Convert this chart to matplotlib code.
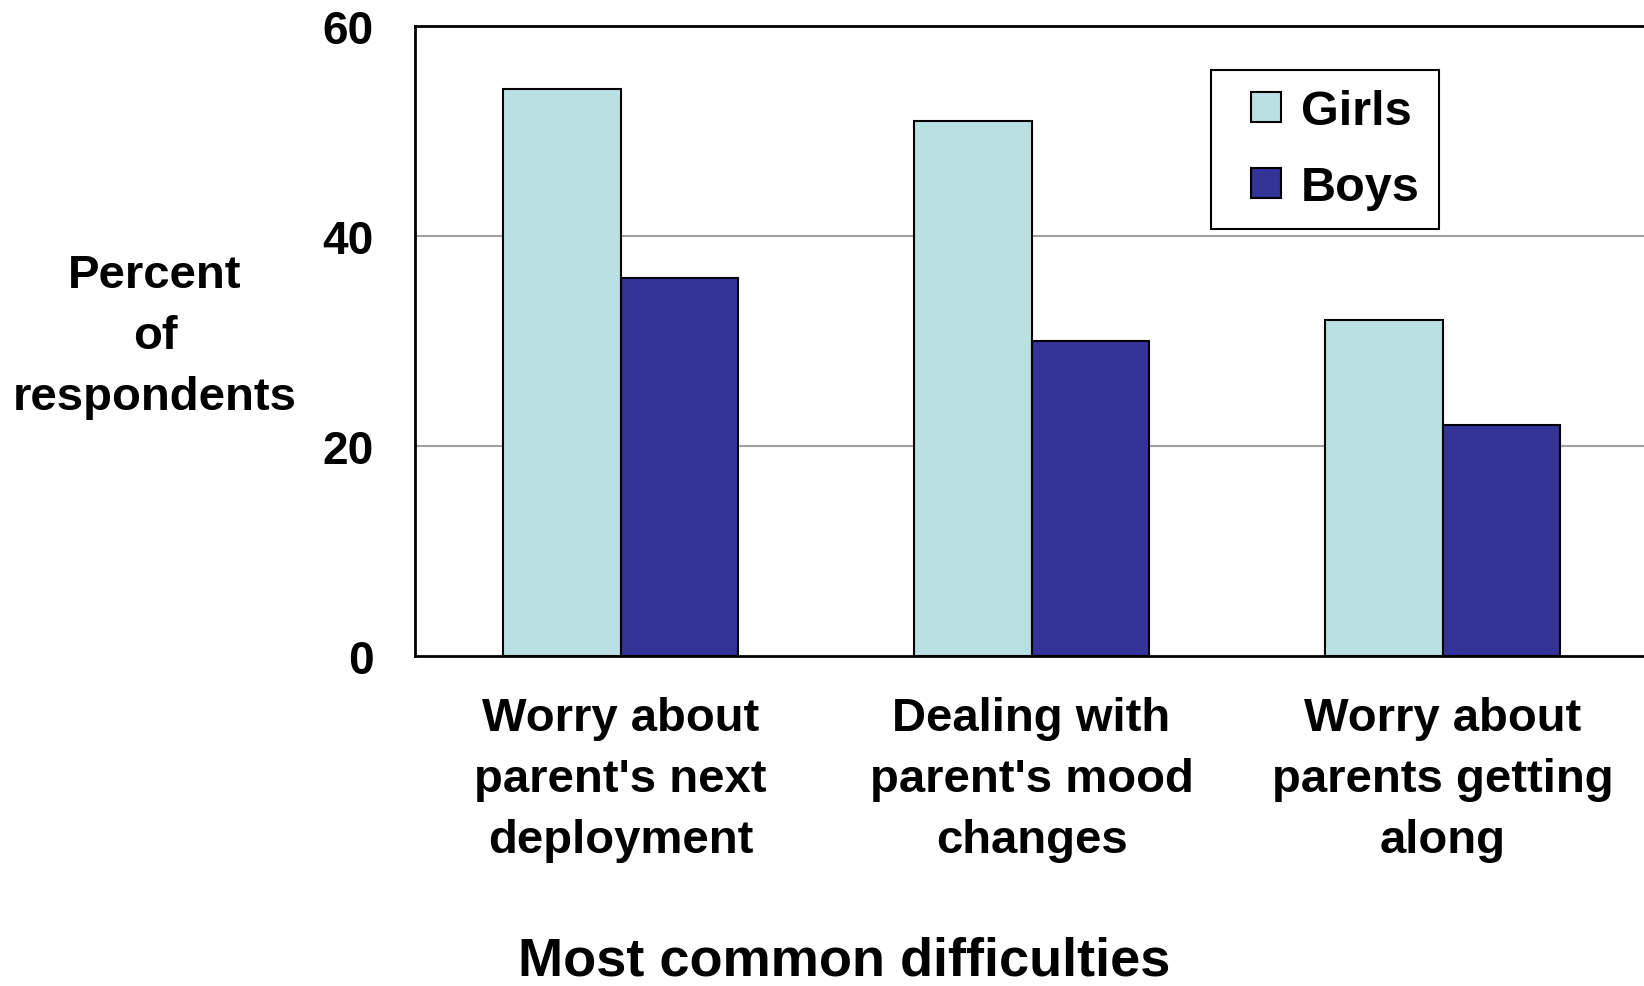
import matplotlib.pyplot as plt
from matplotlib.lines import Line2D
import numpy as np

# Data
categories = ["Worry about\nparent's next\ndeployment",
              "Dealing with\nparent's mood\nchanges",
              "Worry about\nparents getting\nalong"]
series = ["Girls", "Boys"]
girls = [54, 51, 32]
boys = [36, 30, 22]
yticks = [0, 20, 40, 60]
colors = ['#BBE0E3', '#333399']

plt.rcParams['font.family'] = ['Liberation Sans', 'DejaVu Sans']
plt.rcParams['font.weight'] = 'bold'

W, H = 1644, 987
fig = plt.figure(figsize=(W / 100, H / 100), dpi=100)
ax = fig.add_axes([415 / W, 1 - 657 / H, (1648 - 415) / W, 630 / H])

x = np.arange(len(categories))
bw = 0.285
ax.bar(x - bw / 2, girls, bw, color=colors[0], edgecolor='black', linewidth=1.5, zorder=3)
ax.bar(x + bw / 2, boys, bw, color=colors[1], edgecolor='black', linewidth=1.5, zorder=3)

ax.set_xlim(-0.5, 2.5)
ax.set_ylim(0, 60)
ax.set_yticks(yticks)
ax.set_yticklabels([str(v) for v in yticks], fontsize=33, fontweight='bold')
ax.set_xticks(x)
ax.set_xticklabels(categories, fontsize=34, fontweight='bold', linespacing=1.5)
ax.tick_params(axis='y', length=0, pad=30)
ax.tick_params(axis='x', length=0, pad=29)

for v in yticks[1:-1]:
    ax.axhline(v, color='#A0A0A0', linewidth=1.5, zorder=1)

for s in ax.spines.values():
    s.set_linewidth(2)
    s.set_color('black')

fig.text(155 / W, 1 - 337 / H, "Percent\nof\nrespondents", ha='center', va='center',
         fontsize=34, fontweight='bold', linespacing=1.51)
fig.text(844 / W, 1 - 962 / H, "Most common difficulties", ha='center', va='center',
         fontsize=39, fontweight='bold')

# legend with square markers so the swatch sits inset like the original
handles = [Line2D([], [], linestyle='none', marker='s', markersize=22,
                  markerfacecolor=c, markeredgecolor='black', markeredgewidth=1.5)
           for c in colors]
leg = ax.legend(handles, series, loc='upper left', bbox_to_anchor=(1211 / W, 1 - 71 / H),
                bbox_transform=fig.transFigure, fontsize=35, frameon=True,
                fancybox=False, framealpha=1, edgecolor='black', numpoints=1,
                handlelength=1.45, handletextpad=0.0,
                labelspacing=0.62, borderpad=0.4, borderaxespad=0)
leg.get_frame().set_linewidth(1.5)
for t in leg.get_texts():
    t.set_fontweight('bold')

fig.savefig('out.png', dpi=100)
